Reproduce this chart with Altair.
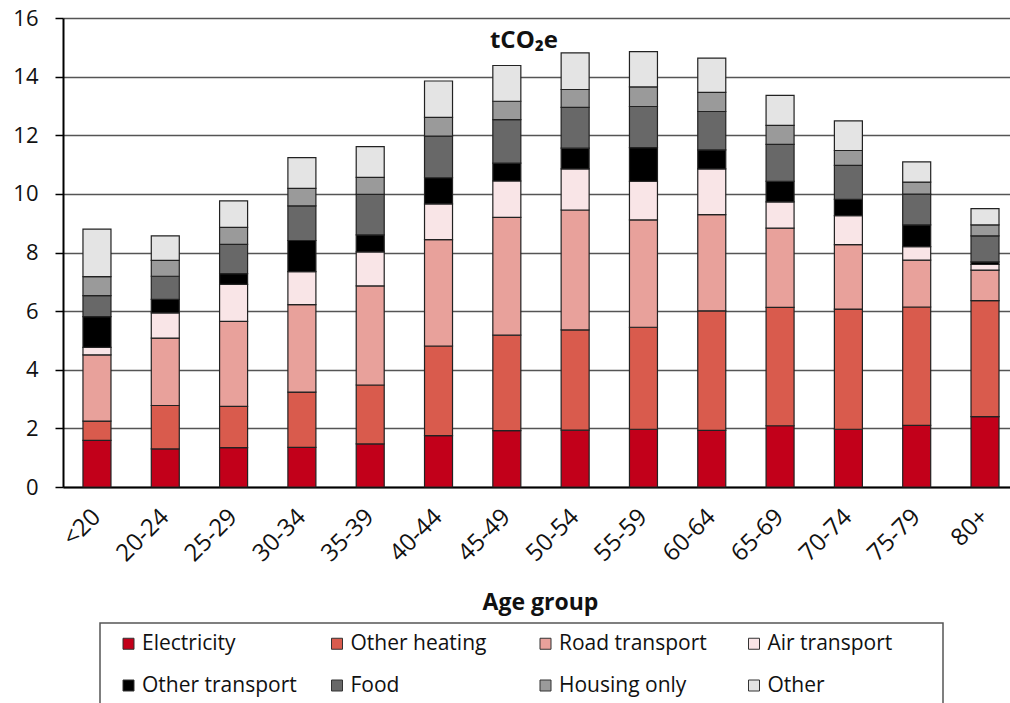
import altair as alt
import pandas as pd

# Age groups along the x axis
age_groups = ["<20", "20-24", "25-29", "30-34", "35-39", "40-44", "45-49",
              "50-54", "55-59", "60-64", "65-69", "70-74", "75-79", "80+"]

# Emission categories, bottom of the stack first
categories = ["Electricity", "Other heating", "Road transport", "Air transport",
              "Other transport", "Food", "Housing only", "Other"]
colors = ["#C2001A", "#D95B4D", "#E8A19B", "#F9E5E7",
          "#000000", "#686868", "#9A9A9A", "#E4E4E4"]

# Per-capita footprint by category (tCO2e), one value per age group
electricity     = [1.59, 1.30, 1.34, 1.35, 1.47, 1.75, 1.92, 1.94, 1.97, 1.93, 2.09, 1.97, 2.10, 2.40]
other_heating   = [0.66, 1.48, 1.41, 1.89, 2.01, 3.06, 3.26, 3.42, 3.48, 4.08, 4.04, 4.10, 4.04, 3.96]
road_transport  = [2.26, 2.30, 2.90, 2.98, 3.38, 3.63, 4.02, 4.09, 3.66, 3.28, 2.70, 2.20, 1.60, 1.04]
air_transport   = [0.25, 0.86, 1.26, 1.13, 1.16, 1.22, 1.24, 1.40, 1.32, 1.56, 0.90, 0.99, 0.46, 0.19]
other_transport = [1.05, 0.46, 0.37, 1.06, 0.58, 0.89, 0.61, 0.71, 1.15, 0.65, 0.70, 0.55, 0.74, 0.09]
food            = [0.72, 0.79, 1.00, 1.18, 1.38, 1.42, 1.48, 1.39, 1.40, 1.31, 1.26, 1.16, 1.05, 0.89]
housing_only    = [0.65, 0.54, 0.58, 0.60, 0.58, 0.64, 0.63, 0.61, 0.67, 0.65, 0.65, 0.51, 0.41, 0.37]
other           = [1.62, 0.84, 0.90, 1.05, 1.05, 1.24, 1.22, 1.25, 1.20, 1.17, 1.02, 1.01, 0.69, 0.56]

series = [electricity, other_heating, road_transport, air_transport,
          other_transport, food, housing_only, other]

y_ticks = [0, 2, 4, 6, 8, 10, 12, 14, 16]

rows = []
for idx, (cat, vals) in enumerate(zip(categories, series)):
    for age, v in zip(age_groups, vals):
        rows.append({"age": age, "category": cat, "value": v, "idx": idx})
df = pd.DataFrame(rows)

FONT = "Open Sans"

bars = alt.Chart(df).mark_bar(stroke="#222222", strokeWidth=1.2).encode(
    x=alt.X(
        "age:N",
        sort=age_groups,
        scale=alt.Scale(paddingInner=0.59, paddingOuter=0.2266, align=0.645),
        axis=alt.Axis(
            title="Age group",
            titleFontWeight="bold",
            titleFontSize=23,
            titleFont=FONT,
            titleColor="#111111",
            titlePadding=26,
            titleX=477,
            labelAngle=-45,
            labelAlign="right",
            labelBaseline="middle",
            labelFontSize=24,
            labelFont=FONT,
            labelColor="#111111",
            labelPadding=26,
            ticks=False,
            domainColor="#000000",
            domainWidth=2,
            grid=False,
        ),
    ),
    y=alt.Y(
        "value:Q",
        stack="zero",
        scale=alt.Scale(domain=[0, 16], nice=False),
        axis=alt.Axis(
            title=None,
            values=y_ticks,
            labelFontSize=22,
            labelFont=FONT,
            labelColor="#111111",
            labelPadding=17,
            tickSize=8,
            tickColor="#000000",
            tickWidth=1.5,
            domainColor="#000000",
            domainWidth=2,
            grid=True,
            gridColor="#555555",
            gridWidth=1.6,
        ),
    ),
    color=alt.Color(
        "category:N",
        sort=categories,
        scale=alt.Scale(domain=categories, range=colors),
        legend=alt.Legend(
            title=None,
            orient="none",
            legendX=37,
            legendY=605,
            direction="horizontal",
            columns=4,
            gridAlign="all",
            columnPadding=21.5,
            rowPadding=20,
            padding=10,
            symbolOffset=8,
            symbolType="square",
            symbolSize=121,
            symbolStrokeColor="#333333",
            symbolStrokeWidth=1,
            symbolOpacity=1,
            labelFontSize=21,
            labelFont=FONT,
            labelColor="#111111",
            labelOffset=3,
        ),
    ),
    order=alt.Order("idx:Q", sort="ascending"),
)

# Frame around the legend entries
legend_frame = alt.Chart(pd.DataFrame({"k": [0]})).mark_rect(
    fill=None, stroke="#555555", strokeWidth=1.5
).encode(
    x=alt.value(37), x2=alt.value(880), y=alt.value(605), y2=alt.value(730)
)

unit_label = alt.Chart(pd.DataFrame({"t": ["tCO₂e"]})).mark_text(
    font="Open Sans, Noto Sans, DejaVu Sans",
    fontSize=24,
    fontWeight="bold",
    color="#111111",
    align="center",
    baseline="middle",
).encode(text="t:N", x=alt.value(461), y=alt.value(23))

chart = alt.layer(bars, legend_frame, unit_label).properties(
    width=947,
    height=469,
    autosize=alt.AutoSizeParams(type="none"),
    padding={"left": 63, "top": 18, "right": 0, "bottom": 216},
    background="white",
).configure_view(stroke=None)

chart.save("out.html", embed_options={"renderer": "svg", "actions": False})
